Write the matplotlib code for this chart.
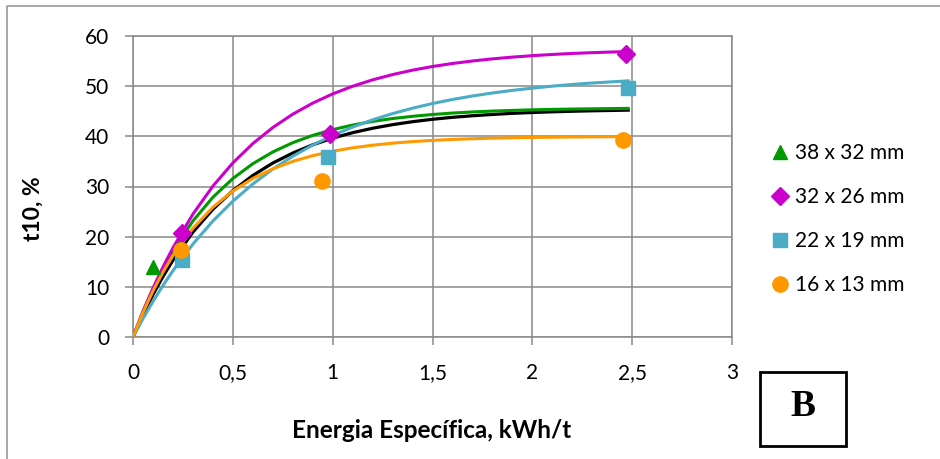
import matplotlib.pyplot as plt
from matplotlib.lines import Line2D
from matplotlib.patches import Rectangle

plt.rcParams['font.family'] = ['Lato', 'DejaVu Sans']

# measured points (energia especifica kWh/t, t10 %)
e_38 = [0.10]
t_38 = [14.0]
e_32 = [0.247, 0.986, 2.467]
t_32 = [20.8, 40.5, 56.5]
e_22 = [0.247, 0.975, 2.477]
t_22 = [15.3, 35.9, 49.6]
e_16 = [0.240, 0.948, 2.452]
t_16 = [17.3, 31.0, 39.3]

# trend curves
e_fit = [0, 0.05, 0.1, 0.15, 0.2, 0.3, 0.4, 0.5, 0.6, 0.7, 0.8, 0.9, 1.0,
         1.1, 1.2, 1.3, 1.4, 1.5, 1.6, 1.7, 1.8, 1.9, 2.0, 2.1, 2.2, 2.3, 2.48]
fit_38 = [0, 5.07, 9.57, 13.58, 17.14, 23.12, 27.85, 31.59, 34.54, 36.88, 38.73,
          40.19, 41.34, 42.25, 42.98, 43.55, 43.99, 44.35, 44.64, 44.86, 45.03,
          45.17, 45.28, 45.37, 45.44, 45.49, 45.57]
fit_32 = [0, 5.08, 9.71, 13.93, 17.78, 24.49, 30.07, 34.70, 38.55, 41.75, 44.41,
          46.62, 48.46, 49.98, 51.26, 52.31, 53.19, 53.92, 54.52, 55.02, 55.44,
          55.79, 56.08, 56.32, 56.52, 56.68, 56.91]
fit_22 = [0, 3.67, 7.09, 10.26, 13.21, 18.52, 23.11, 27.07, 30.50, 33.47, 36.04,
          38.26, 40.18, 41.85, 43.29, 44.53, 45.61, 46.54, 47.34, 48.04, 48.64,
          49.16, 49.61, 50.00, 50.34, 50.63, 51.06]
fit_16 = [0, 4.88, 9.16, 12.92, 16.22, 21.66, 25.86, 29.10, 31.60, 33.52, 35.00,
          36.15, 37.03, 37.71, 38.23, 38.64, 38.95, 39.19, 39.38, 39.52, 39.63,
          39.71, 39.78, 39.83, 39.87, 39.90, 39.94]
fit_all = [0, 4.43, 8.44, 12.04, 15.30, 20.90, 25.46, 29.17, 32.20, 34.67, 36.67,
           38.31, 39.64, 40.73, 41.61, 42.33, 42.92, 43.40, 43.79, 44.10, 44.36,
           44.58, 44.75, 44.89, 45.00, 45.09, 45.22]

labels = ['38 x 32 mm', '32 x 26 mm', '22 x 19 mm', '16 x 13 mm']
x_ticks = [0, 0.5, 1, 1.5, 2, 2.5, 3]
x_tick_labels = ['0', '0,5', '1', '1,5', '2', '2,5', '3']
y_ticks = [0, 10, 20, 30, 40, 50, 60]

green = '#009900'
magenta = '#CC00CC'
cyan = '#4BACC6'
orange = '#FF9900'
grid_c = '#898989'

fig = plt.figure(figsize=(9.4, 4.59), dpi=100)
ax = fig.add_axes([133 / 940, 122 / 459, 599 / 940, 301 / 459])

ax.plot(e_fit, fit_all, color='black', lw=2.3, zorder=3)
ax.plot(e_fit, fit_38, color=green, lw=2.2, zorder=3)
ax.plot(e_fit, fit_32, color=magenta, lw=2.2, zorder=3)
ax.plot(e_fit, fit_22, color=cyan, lw=2.2, zorder=3)
ax.plot(e_fit, fit_16, color=orange, lw=2.2, zorder=3)

ax.plot(e_38, t_38, '^', color=green, ms=10, ls='none', zorder=4)
ax.plot(e_32, t_32, 'D', color=magenta, ms=9, ls='none', zorder=4)
ax.plot(e_22, t_22, 's', color=cyan, ms=10, ls='none', zorder=4)
ax.plot(e_16, t_16, 'o', color=orange, ms=11, ls='none', zorder=4)

ax.set_xlim(0, 3)
ax.set_ylim(0, 60)
ax.set_xticks(x_ticks)
ax.set_xticklabels(x_tick_labels)
ax.set_yticks(y_ticks)
ax.grid(True, color=grid_c, lw=1.1)
ax.set_axisbelow(True)
for s in ax.spines.values():
    s.set_color(grid_c)
    s.set_linewidth(1.1)
ax.tick_params(axis='both', colors=grid_c, length=6, width=1.1, labelsize=15,
               labelcolor='black')
ax.tick_params(axis='y', pad=11)
ax.tick_params(axis='x', pad=13)

fig.text(33 / 940, 1 - 209 / 459, 't10, %', rotation=90, fontsize=16.5,
         fontweight='bold', ha='center', va='center')
fig.text(432 / 940, 1 - 430 / 459, 'Energia Específica, kWh/t', fontsize=17.5,
         fontweight='bold', ha='center', va='center')

handles = [
    Line2D([], [], marker='^', color=green, ls='none', ms=10),
    Line2D([], [], marker='D', color=magenta, ls='none', ms=9),
    Line2D([], [], marker='s', color=cyan, ls='none', ms=10),
    Line2D([], [], marker='o', color=orange, ls='none', ms=11),
]
fig.legend(handles, labels, loc='upper left', bbox_to_anchor=(772 / 940, 1 - 143 / 459),
           frameon=False, fontsize=15, handlelength=0.8, handletextpad=0.3,
           labelspacing=1.15, borderpad=0, borderaxespad=0)

fig.add_artist(Rectangle((760 / 940, 1 - 446 / 459), 86 / 940, 74 / 459,
                         transform=fig.transFigure, fill=False, ec='black', lw=2))
fig.text(803 / 940, 1 - 406 / 459, 'B', fontsize=27, fontweight='bold',
         family='Liberation Serif', ha='center', va='center')

# outer chart border (left and top edges)
fig.add_artist(Line2D([7.5 / 940, 7.5 / 940, 1], [0, 1 - 6 / 459, 1 - 6 / 459],
                      transform=fig.transFigure, color='#9a9a9a', lw=1.2))

fig.savefig('out.png', dpi=100)
